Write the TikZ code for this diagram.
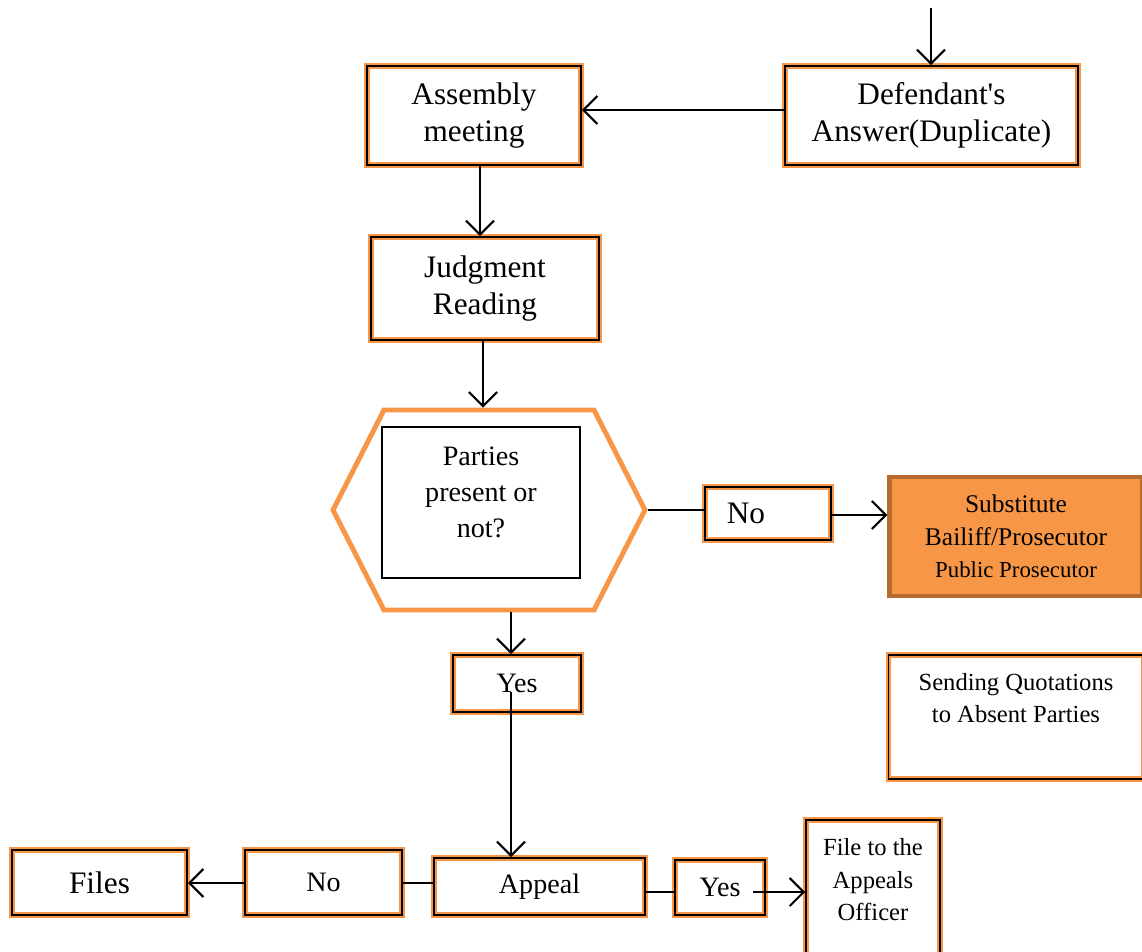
\documentclass[tikz,border=0pt]{standalone}
\usepackage{fontspec}
\setmainfont{Liberation Serif}
\usetikzlibrary{positioning}
\usetikzlibrary{arrows.meta}
\usetikzlibrary{shapes.symbols}
\definecolor{boxorange}{HTML}{F79646}
\definecolor{boxbrown}{HTML}{B86B2F}
\tikzstyle{every box} = []
\tikzstyle{box} = [rectangle, draw=black, line width=0.9pt, inner sep=2pt, align=center,
    preaction={draw=boxorange, line width=3.2pt}, every box]
\tikzstyle{flow} = [line width=1.2pt, -{Straight Barb[length=8pt,width=16pt,line width=1.2pt]}]
\tikzstyle{plain} = [line width=0.7pt]

\begin{document}
\begin{tikzpicture}[x=0.02cm, y=-0.02cm]
        \useasboundingbox (0,0) rectangle (1142,952);
        \tikzstyle{big} = [font=\fontsize{17.8}{21}\selectfont]
        \tikzstyle{mid} = [font=\fontsize{16}{20.5}\selectfont]
        \tikzstyle{small} = [font=\fontsize{14}{18.5}\selectfont]

        % upper part
        \coordinate (start) at (931,8);
        \node[box, big, minimum width=5.86cm, minimum height=1.98cm] (answer) at (931.5,115.5) {Defendant\textquotesingle s\\Answer(Duplicate)};
        \node[box, big, minimum width=4.28cm, minimum height=1.98cm] (assembly) at (474,115.5) {Assembly\\meeting};
        \node[box, big, minimum width=4.56cm, minimum height=2.06cm] (judgment) at (485,288.5) {Judgment\\Reading};
        \draw[flow] (start) -- (answer.north -| start);
        \draw[flow] (answer.west |- 0,110) -- (assembly.east |- 0,110);
        \draw[flow] (assembly.south -| 480,0) -- (judgment.north -| 480,0);

        % decision
        \node[signal, signal to=west and east, signal pointer angle=126, draw=boxorange, line width=2.8pt,
            minimum width=6.24cm, minimum height=4cm] (parties) at (489,510) {};
        \node[rectangle, draw, line width=0.6pt, minimum width=3.96cm, minimum height=3.02cm,
            label={[align=center, yshift=0.2cm, mid]center:Parties\\present or\\not?}] (question) at (481,502.5) {};
        \draw[flow] (judgment.south -| 483,0) -- (parties.north -| 483,0);

        \node[box, big, minimum width=2.52cm, minimum height=1.06cm,
            label={[xshift=-0.44cm, big]center:No}] (noabsent) at (768,513.5) {};
        \draw[plain] (parties.east) -- (noabsent.west |- parties.east);
        \node[rectangle, draw=boxbrown, line width=2.4pt, fill=boxorange, align=center,
            minimum width=5.06cm, minimum height=2.38cm, font=\fontsize{14.5}{18.5}\selectfont] (substitute) at (1016,536.5)
            {Substitute\\Bailiff/Prosecutor\\{\fontsize{13}{15}\selectfont Public Prosecutor}};
        \draw[flow] (noabsent.east |- 0,515) -- (substitute.west |- 0,515);

        \node[box, minimum width=5.1cm, minimum height=2.48cm,
            label={[align=center, yshift=0.38cm, small]center:Sending Quotations\\to Absent Parties}] (sending) at (1016,717) {};

        % lower part
        \coordinate (drop) at (511,692);
        \node[box, mid, minimum width=2.56cm, minimum height=1.14cm] (yespresent) at (517,683.5) {Yes};
        \draw[flow] (parties.south -| drop) -- (yespresent.north -| drop);

        \node[box, mid, minimum width=4.22cm, minimum height=1.14cm] (appeal) at (539.5,886.5) {Appeal};
        \draw[flow] (drop) -- (appeal.north -| drop);

        \node[box, mid, minimum width=3.14cm, minimum height=1.3cm] (noappeal) at (323.5,882.5) {No};
        \node[box, big, minimum width=3.5cm, minimum height=1.3cm] (files) at (99.5,882.5) {Files};
        \draw[plain] (appeal.west |- 0,883) -- (noappeal.east |- 0,883);
        \draw[flow] (noappeal.west |- 0,883) -- (files.east |- 0,883);

        \node[box, mid, minimum width=1.8cm, minimum height=1.1cm] (yesappeal) at (720,887.5) {Yes};
        \node[box, minimum width=2.68cm, minimum height=2.76cm,
            label={[align=center, yshift=0.18cm, small]center:File to the\\Appeals\\Officer}] (officer) at (873,889) {};
        \draw[plain] (appeal.east |- 0,892) -- (yesappeal.west |- 0,892);
        \coordinate (hand) at (753,892);
        \draw[flow] (hand) -- (officer.west |- hand);
    \end{tikzpicture}
\end{document}
